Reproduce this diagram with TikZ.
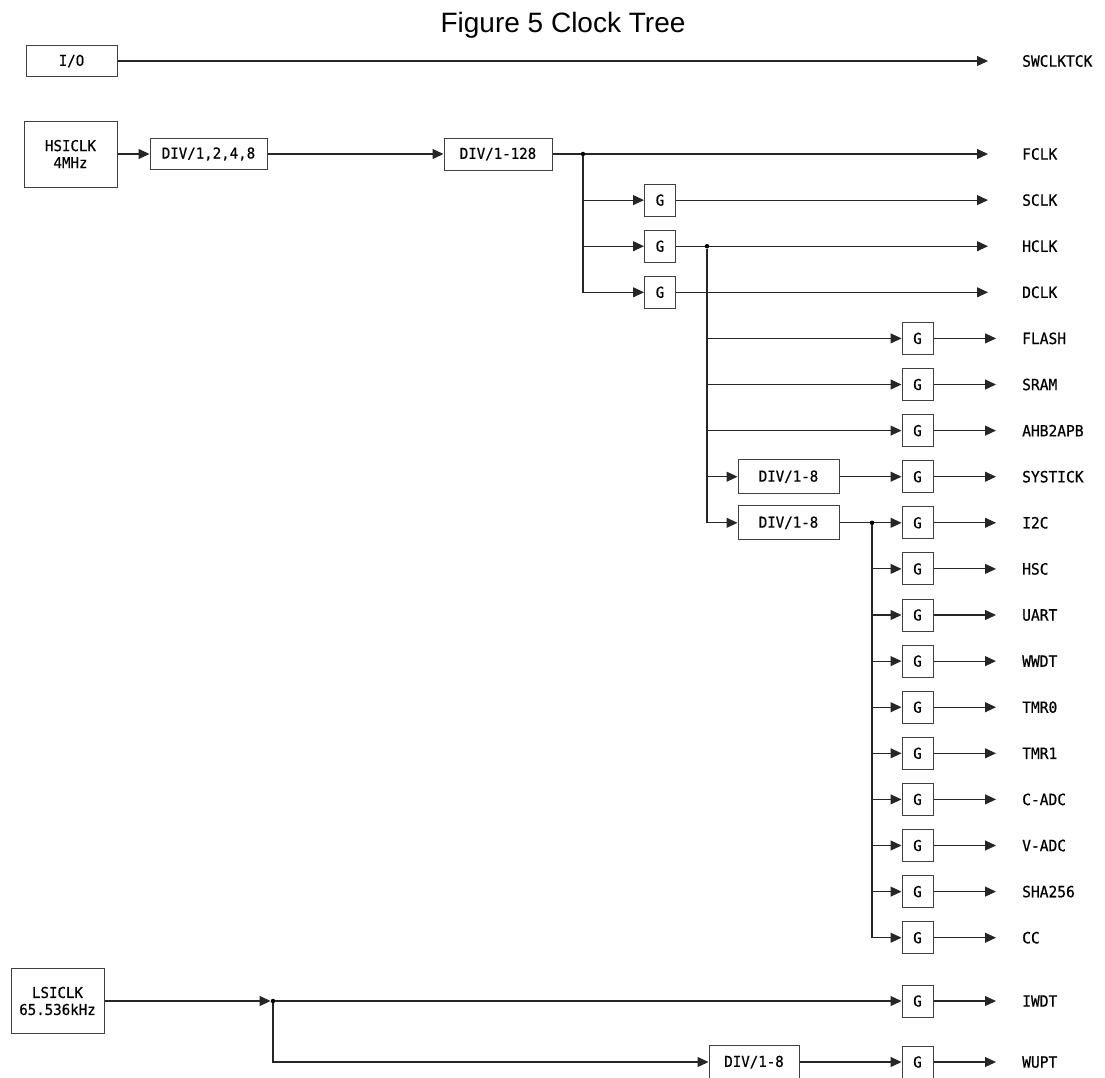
\documentclass[tikz,border=0pt]{standalone}
\usepackage{fontspec}
\setmainfont{Liberation Sans}
\newfontfamily\labfont[FakeBold=0.6,FakeStretch=0.94]{DejaVu Sans Mono}
\usetikzlibrary{arrows.meta}
\begin{document}
\begin{tikzpicture}[x=1pt,y=-1pt,
  box/.style={draw=black!75, line width=1pt, inner sep=0pt, align=center,
    font=\labfont\fontsize{15}{17}\selectfont},
  gbox/.style={box, minimum width=31pt, minimum height=32pt},
  divbox/.style={box, minimum width=101pt, minimum height=34pt},
  wire/.style={draw=black!85, line width=1.1pt},
  arr/.style={wire, -{Triangle[length=11pt,width=10pt]}},
  tolab/.style={arr, shorten >=#1},
  lab/.style={anchor=west, inner sep=0pt, font=\labfont\fontsize{15.5}{18}\selectfont},
  dot/.style={circle, fill=black, inner sep=0pt, minimum size=4.5pt}]
\useasboundingbox (0,0) rectangle (1105,1077);

% title
\node[anchor=base, inner sep=0pt, font=\fontsize{28}{33}\selectfont] (title) at (563,32) {Figure 5 Clock Tree};

% I/O
\node[box, minimum width=91pt, minimum height=31pt] (io) at (71.5,61) {I/O};
\node[lab] (swclktck) at (1022,61) {SWCLKTCK};
\draw[tolab=34pt] (io) -- (swclktck.west);

% HSICLK chain
\node[box, minimum width=93pt, minimum height=66pt] (hsi) at (70.5,154) {HSICLK\\4MHz};
\node[box, minimum width=117pt, minimum height=31pt] (div1) at (208.5,154) {DIV/1,2,4,8};
\node[box, minimum width=108pt, minimum height=32pt] (div2) at (498,154) {DIV/1-128};
\node[dot] (j1) at (583,154) {};
\node[lab] (fclk) at (1022,154) {FCLK};
\draw[arr] (hsi) -- (div1);
\draw[arr] (div1) -- (div2);
\draw[wire] (div2) -- (j1);
\draw[tolab=34pt] (j1) -- (fclk.west);

% gated column 1
\node[gbox] (gs) at (660,200.1) {G};
\node[gbox] (gh) at (660,246.2) {G};
\node[gbox] (gd) at (660,292.3) {G};
\node[lab] (sclk) at (1022,200.1) {SCLK};
\node[lab] (hclk) at (1022,246.2) {HCLK};
\node[lab] (dclk) at (1022,292.3) {DCLK};
\draw[arr] (j1) |- (gs.west);
\draw[arr] (j1) |- (gh.west);
\draw[arr] (j1) |- (gd.west);
\draw[tolab=34pt] (gs) -- (sclk.west);
\node[dot] (j2) at (707,246.2) {};
\draw[wire] (gh) -- (j2);
\draw[tolab=34pt] (j2) -- (hclk.west);
\draw[tolab=34pt] (gd) -- (dclk.west);

% HCLK branches
\foreach \n/\t/\y in {flash/FLASH/338.4, sram/SRAM/384.5, ahb/AHB2APB/430.6}{
  \node[gbox] (g\n) at (917.5,\y) {G};
  \node[lab] (l\n) at (1022,\y) {\t};
  \draw[arr] (j2) |- (g\n.west);
  \draw[tolab=26pt] (g\n) -- (l\n.west);
}
\node[divbox] (dsys) at (788.5,476.7) {DIV/1-8};
\node[divbox] (di2c) at (788.5,522.8) {DIV/1-8};
\draw[arr] (j2) |- (dsys.west);
\draw[arr] (j2) |- (di2c.west);
\node[gbox] (gsys) at (917.5,476.7) {G};
\node[lab] (lsys) at (1022,476.7) {SYSTICK};
\draw[arr] (dsys) -- (gsys);
\draw[tolab=26pt] (gsys) -- (lsys.west);

\node[dot] (j3) at (872,522.8) {};
\draw[wire] (di2c) -- (j3);
\node[gbox] (gi2c) at (917.5,522.8) {G};
\node[lab] (li2c) at (1022,522.8) {I2C};
\draw[arr] (j3) -- (gi2c);
\draw[tolab=26pt] (gi2c) -- (li2c.west);

\foreach \n/\t/\y in {hsc/HSC/568.9, uart/UART/615, wwdt/WWDT/661.1, tmra/TMR0/707.2,
  tmrb/TMR1/753.3, cadc/C-ADC/799.4, vadc/V-ADC/845.5, sha/SHA256/891.6, cc/CC/937.7}{
  \node[gbox] (g\n) at (917.5,\y) {G};
  \node[lab] (l\n) at (1022,\y) {\t};
  \draw[arr] (j3) |- (g\n.west);
  \draw[tolab=26pt] (g\n) -- (l\n.west);
}

% LSICLK
\node[box, minimum width=93pt, minimum height=65pt] (lsi) at (57.5,1001) {LSICLK\\65.536kHz};
\node[dot] (j4) at (273,1001) {};
\draw[arr] (lsi) -- (j4);
\node[gbox] (giwdt) at (917.5,1001) {G};
\node[lab] (liwdt) at (1022,1001) {IWDT};
\draw[arr] (j4) -- (giwdt);
\draw[tolab=26pt] (giwdt) -- (liwdt.west);
\node[box, minimum width=90pt, minimum height=34pt] (dwupt) at (754,1062) {DIV/1-8};
\node[gbox] (gwupt) at (917.5,1062) {G};
\node[lab] (lwupt) at (1022,1062) {WUPT};
\draw[arr] (j4) |- (dwupt.west);
\draw[arr] (dwupt) -- (gwupt);
\draw[tolab=26pt] (gwupt) -- (lwupt.west);
\end{tikzpicture}
\end{document}
